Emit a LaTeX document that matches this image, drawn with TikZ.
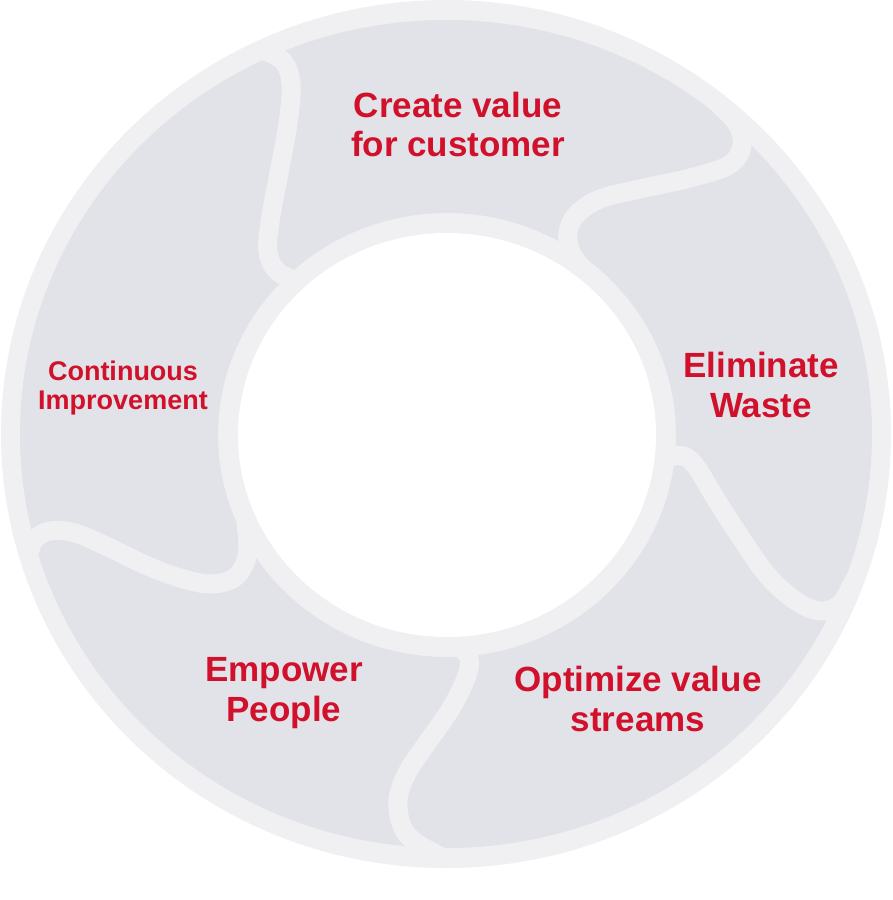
\documentclass[tikz,border=0pt]{standalone}
\usepackage{fontspec}
\setmainfont{Liberation Sans}
\definecolor{ringlight}{HTML}{F0F0F2}
\definecolor{seggray}{HTML}{E2E3E8}
\definecolor{lblred}{HTML}{D1102B}
\tikzset{
  gap/.style={draw=ringlight, line width=19pt, line cap=round, line join=round},
  lbl/.style={text=lblred, font=\bfseries\fontsize{35}{40}\selectfont, inner sep=0pt, anchor=base},
  lblsmall/.style={text=lblred, font=\bfseries\fontsize{27}{29}\selectfont, inner sep=0pt, anchor=base}
}
\begin{document}
\begin{tikzpicture}[x=1pt,y=-1pt]
\useasboundingbox (0,0) rectangle (892,900);
\fill[white] (0,0) rectangle (892,900);
\fill[ringlight] (446,434) ellipse [x radius=445pt, y radius=434pt];
\fill[seggray, even odd rule] (446,434) ellipse [x radius=426pt, y radius=414pt]
  (447,435) ellipse [x radius=229pt, y radius=222pt];
% gaps
\draw[gap] plot[smooth, tension=0.6] coordinates {(262,50) (283,61) (291,84) (288,123) (279,173) (270,222) (268,252) (277,271) (296,281)};
\draw[gap] plot[smooth, tension=0.6] coordinates {(718,104) (737,124) (742,146) (729,165) (690,178) (640,189) (600,199) (577,214) (568,232) (571,252) (583,269)};
\draw[gap] plot[smooth, tension=0.6] coordinates {(853,582) (840,604) (820,611) (796,601) (768,576) (741,538) (714,496) (697,468) (684,456) (668,458) (660,468)};
\draw[gap] plot[smooth, tension=0.6] coordinates {(440,856) (415,842) (402,826) (398,800) (407,773) (427,743) (450,710) (466,678) (469,658) (458,646)};
\draw[gap] plot[smooth, tension=0.6] coordinates {(29,553) (35,539) (50,531) (75,533) (108,547) (150,567) (187,580) (213,584) (234,578) (245,563) (248,545) (246,525)};
\fill[white] (447,435) ellipse [x radius=209pt, y radius=202pt];
% labels
\node[lbl] (create1) at (458,117) {Create value};
\node[lbl] (create2) at (458,156) {for customer};
\node[lbl] (elim1) at (761,377) {Eliminate};
\node[lbl] (elim2) at (761,417) {Waste};
\node[lbl] (opt1) at (638,691) {Optimize value};
\node[lbl] (opt2) at (638,731) {streams};
\node[lbl] (emp1) at (284,681) {Empower};
\node[lbl] (emp2) at (284,721) {People};
\node[lblsmall] (ci1) at (123,380) {Continuous};
\node[lblsmall] (ci2) at (123,409) {Improvement};
\end{tikzpicture}
\end{document}
